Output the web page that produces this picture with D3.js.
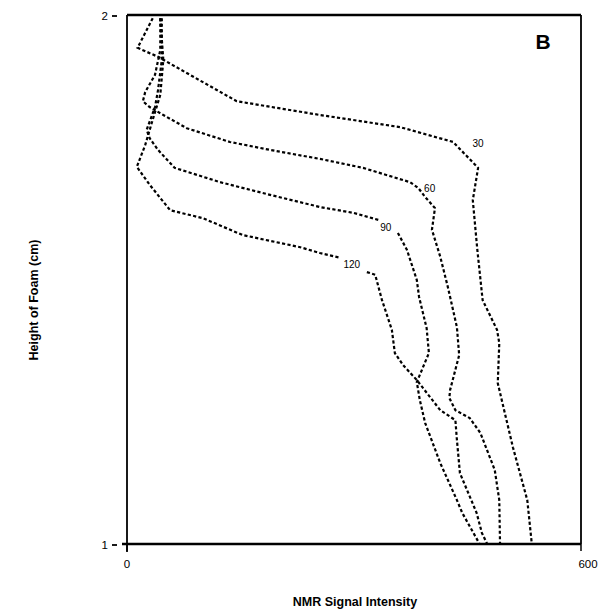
<!DOCTYPE html>
<html><head><meta charset="utf-8">
<script src="https://cdn.jsdelivr.net/npm/d3@7/dist/d3.min.js"></script>
<style>body{margin:0;background:#fff;} text{font-family:"Liberation Sans",Arial,sans-serif;}</style>
</head><body><svg id="c" width="598" height="610"></svg>
<script>
// Series: [NMR signal intensity, height of foam (cm)]; null breaks line at the label
const series30 = [[34,1.994],[14,1.938],[41,1.921],[145,1.837],[255,1.811],[361,1.788],[431,1.760],[464,1.711],[457,1.650],[463,1.556],[470,1.461],[489,1.405],[492,1.380],[490,1.304],[510,1.183],[529,1.083],[535,1.0]];
const series60 = [[44,1.994],[44,1.934],[37,1.887],[24,1.854],[21,1.837],[30,1.826],[48,1.811],[79,1.786],[136,1.760],[189,1.745],[255,1.728],[312,1.711],[374,1.684],[385,1.673],[394,1.656],[407,1.635],[403,1.594],[414,1.543],[424,1.486],[436,1.410],[439,1.357],[427,1.291],[426,1.276],[434,1.253],[453,1.238],[467,1.210],[486,1.140],[492,1.083],[493,1.0]];
const series90 = [[46,1.994],[46,1.915],[41,1.858],[37,1.826],[26,1.783],[30,1.767],[41,1.745],[63,1.711],[123,1.684],[189,1.660],[255,1.637],[299,1.626],[334,1.612],null,[358,1.588],[370,1.556],[383,1.499],[386,1.467],[396,1.408],[399,1.361],[383,1.306],[387,1.272],[394,1.229],[414,1.153],[436,1.083],[443,1.059],[466,1.0]];
const series120 = [[44,1.994],[48,1.915],[44,1.849],[34,1.802],[24,1.754],[13,1.713],[30,1.679],[57,1.631],[100,1.616],[153,1.584],[229,1.561],[255,1.550],[282,1.541],null,[317,1.514],[328,1.509],[337,1.461],[350,1.405],[354,1.361],[365,1.338],[383,1.310],[414,1.253],[434,1.234],[436,1.197],[440,1.134],[462,1.059],[469,1.021],[476,1.0]];
const seriesNames = ["30","60","90","120"];
const labelPos = [[464,1.758],[400,1.673],[342,1.599],[297,1.529]];
const xTicks = [0,600];
const yTicks = [1,2];
const xTitle = "NMR Signal Intensity";
const yTitle = "Height of Foam (cm)";
const panel = "B";

const svg = d3.select("#c");
const x = d3.scaleLinear().domain([0,600]).range([127,581]);
const y = d3.scaleLinear().domain([1,2]).range([544,15]);
const allSeries = [series30,series60,series90,series120];

// frame
svg.append("line").attr("x1",x(0)).attr("x2",x(600)).attr("y1",y(2)).attr("y2",y(2)).attr("stroke","#000").attr("stroke-width",2.5);
svg.append("line").attr("x1",x(0)-5).attr("x2",x(600)).attr("y1",y(1)).attr("y2",y(1)).attr("stroke","#000").attr("stroke-width",2.5);
svg.append("line").attr("x1",x(0)).attr("x2",x(0)).attr("y1",y(2)).attr("y2",y(1)+8).attr("stroke","#000").attr("stroke-width",1.8);
svg.append("line").attr("x1",x(600)).attr("x2",x(600)).attr("y1",y(2)).attr("y2",y(1)).attr("stroke","#000").attr("stroke-width",1.8);

// x ticks
const xa = svg.append("g");
xTicks.forEach(t=>{
  xa.append("line").attr("x1",x(t)).attr("x2",x(t)).attr("y1",y(1)).attr("y2",y(1)+7).attr("stroke","#000").attr("stroke-width",1.5);
  xa.append("text").attr("x",x(t)+(t===600?7:0)).attr("y",y(1)+24).attr("text-anchor","middle").attr("font-size",11.5).text(t);
});
// y ticks
const ya = svg.append("g");
yTicks.forEach(t=>{
  ya.append("line").attr("x1",x(0)-15).attr("x2",x(0)-10).attr("y1",y(t)+1).attr("y2",y(t)+1).attr("stroke","#000").attr("stroke-width",1.8);
  ya.append("text").attr("x",x(0)-19).attr("y",y(t)+5).attr("text-anchor","end").attr("font-size",11.5).text(t);
});

// curves
const line = d3.line().defined(d=>d!==null).x(d=>x(d[0])).y(d=>y(d[1]));
allSeries.forEach(s=>{
  svg.append("path").attr("d",line(s)).attr("fill","none").attr("stroke","#000")
    .attr("stroke-width",2.2).attr("stroke-dasharray","3.2,2.3");
});
seriesNames.forEach((n,i)=>{
  svg.append("text").attr("x",x(labelPos[i][0])).attr("y",y(labelPos[i][1])+4).attr("text-anchor","middle")
    .attr("font-size",10).text(n);
});

// titles
svg.append("text").attr("x",355).attr("y",606).attr("text-anchor","middle").attr("font-size",12.5).attr("font-weight","bold").text(xTitle);
svg.append("text").attr("transform","translate(38,300) rotate(-90)").attr("text-anchor","middle").attr("font-size",12.5).attr("font-weight","bold").text(yTitle);
svg.append("text").attr("x",543).attr("y",49).attr("text-anchor","middle").attr("font-size",21).attr("font-weight","bold").text(panel);
</script></body></html>
